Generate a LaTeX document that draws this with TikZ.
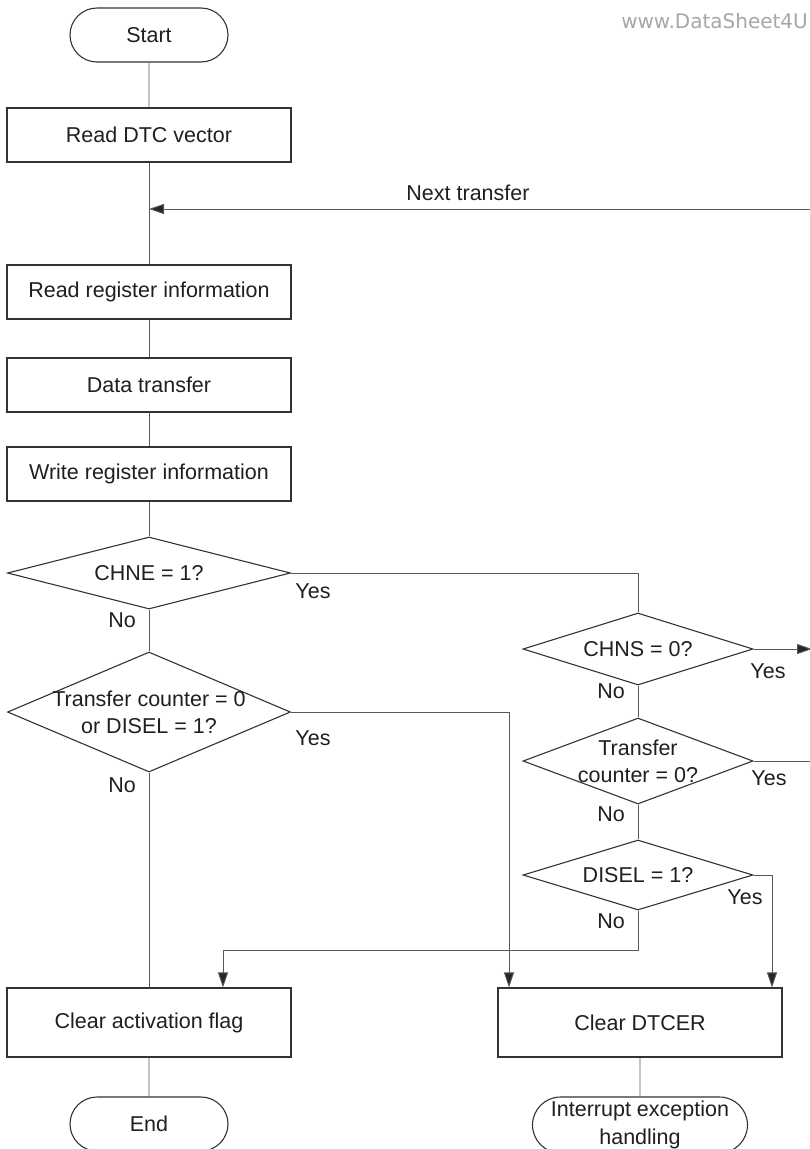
\documentclass[tikz,border=0pt]{standalone}
\usepackage{fontspec}
\setmainfont{Liberation Sans}
\newfontfamily\wmfont{DejaVu Sans}
\usetikzlibrary{shapes.geometric,shapes.misc,arrows.meta,calc}
\begin{document}
\begin{tikzpicture}[x=1pt,y=-1pt,
  every node/.style={font=\fontsize{21.5}{27}\selectfont, text=black!88},
  proc/.style={draw=black!80, line width=1.1pt, minimum width=284pt, minimum height=54pt, inner sep=0pt},
  term/.style={draw=black!80, line width=1.1pt, rounded rectangle, minimum width=158pt, minimum height=54pt, inner sep=0pt},
  dia/.style={draw=black!80, line width=1.1pt, diamond, inner sep=0pt},
  conn/.style={draw=black!65, line width=0.9pt},
  arr/.style={conn, -{Triangle[length=15pt,width=10pt,fill=black!85]}},
  lbl/.style={inner sep=0pt}
]
\useasboundingbox (0,0) rectangle (810,1149);

% watermark
\node[anchor=east, inner sep=0pt, font=\wmfont\fontsize{20}{24}\selectfont, text=black!35] (wm) at (808,21) {www.DataSheet4U};

% left column
\node[term] (start) at (149,35) {Start};
\node[proc] (rdv) at (149,135) {Read DTC vector};
\node[proc] (rri) at (149,292) {Read register information};
\node[proc] (dt) at (149,385) {Data transfer};
\node[proc] (wri) at (149,474) {Write register information};
\node[dia, minimum width=283pt, minimum height=72pt, label={[lbl]center:CHNE = 1?}] (d1) at (149,573) {};
\node[dia, minimum width=283pt, minimum height=120pt, label={[lbl,align=center]center:Transfer counter = 0\\or DISEL = 1?}] (d2) at (149,712) {};
\node[proc, minimum height=69pt] (caf) at (149,1022.5) {Clear activation flag};
\node[term] (endt) at (149,1124) {End};

% right column
\node[dia, minimum width=230pt, minimum height=72pt, label={[lbl]center:CHNS = 0?}] (d3) at (638,649) {};
\node[dia, minimum width=230pt, minimum height=86pt, label={[lbl,align=center]center:Transfer\\counter = 0?}] (d4) at (638,761) {};
\node[dia, minimum width=230pt, minimum height=70pt, label={[lbl]center:DISEL = 1?}] (d5) at (638,875) {};
\node[proc, minimum height=69pt] (cdt) at (640,1022.5) {Clear DTCER};
\node[term, minimum width=215pt, minimum height=56pt, align=center, font=\fontsize{21.5}{28}\selectfont] (intr) at (640,1125) {Interrupt exception\\handling};

% coordinates for free ends
\coordinate (nt) at (812,209);
\coordinate (y3) at (812,649);
\coordinate (y4) at (812,761);
\coordinate (bend5) at (638,950);

% connectors
\draw[conn] (start) -- (rdv);
\draw[conn] (rdv) -- (rri);
\draw[arr] (nt) -- (rdv.south |- nt);
\node[lbl] (ntl) at (468,193) {Next transfer};
\draw[conn] (rri) -- (dt);
\draw[conn] (dt) -- (wri);
\draw[conn] (wri) -- (d1.north);
\draw[conn] (d1.south) -- (d2.north);
\draw[conn] (d1.east) -| (d3.north);
\node[lbl] (y1l) at (313,591) {Yes};
\node[lbl] (n1l) at (122,620) {No};
\draw[arr] (d3.east) -- (y3);
\node[lbl] (y3l) at (768,671) {Yes};
\node[lbl] (n3l) at (611,691) {No};
\draw[conn] (d3.south) -- (d4.north);
\draw[conn] (d4.east) -- (y4);
\node[lbl] (y4l) at (769,778) {Yes};
\node[lbl] (n4l) at (611,814) {No};
\draw[conn] (d4.south) -- (d5.north);
\draw[arr] (d5.east) -| ([xshift=132pt]cdt.north);
\node[lbl] (y5l) at (745,897) {Yes};
\node[lbl] (n5l) at (611,921) {No};
\draw[arr] (d5.south) -- (bend5) -| ([xshift=74pt]caf.north);
\draw[arr] (d2.east) -| ([xshift=-131pt]cdt.north);
\node[lbl] (y2l) at (313,738) {Yes};
\node[lbl] (n2l) at (122,785) {No};
\draw[conn] (d2.south) -- (caf.north);
\draw[conn] (caf) -- (endt);
\draw[conn] (cdt) -- (intr);
\end{tikzpicture}
\end{document}
